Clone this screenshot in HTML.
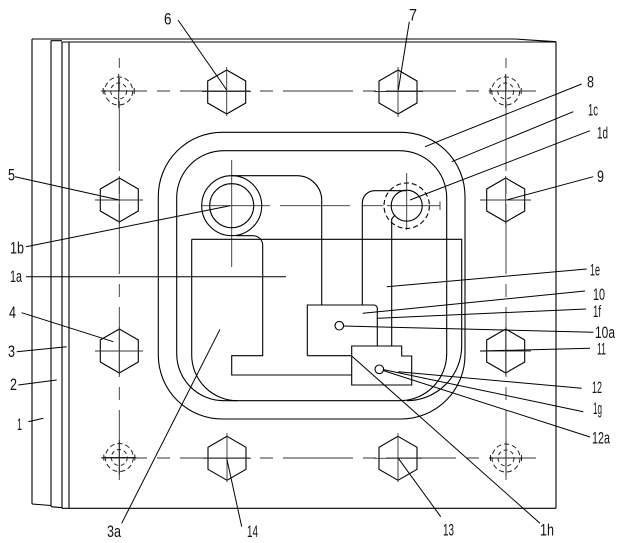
<!DOCTYPE html>
<html><head><meta charset="utf-8">
<style>
html,body{margin:0;padding:0;background:#fff;}
svg{display:block;}
text{font-family:"Liberation Sans",sans-serif;font-size:17px;fill:#111;}
</style></head>
<body>
<svg width="623" height="543" viewBox="0 0 623 543" xmlns="http://www.w3.org/2000/svg">
<rect width="623" height="543" fill="#fff"/>

<!-- Plates outline -->
<g fill="none" stroke="#000" stroke-width="1.1">
  <line x1="32" y1="39" x2="32" y2="504"/>
  <line x1="51" y1="40.5" x2="51" y2="506.5"/>
  <line x1="62" y1="41.5" x2="62" y2="508"/>
  <line x1="69" y1="42" x2="69" y2="508.3"/>
  <path d="M32 39 H515 L540 40.7 L556 41.7"/>
  <path d="M51 40.7 H62"/>
  <path d="M62 42 H556"/>
  <line x1="556" y1="41.7" x2="556" y2="508.3"/>
  <path d="M32 504 L51 505.5 M51 506.7 L62 507.7 M62 508.3 H556"/>
</g>

<!-- Center lines -->
<g fill="none" stroke="#333" stroke-width="0.9">
  <line x1="101" y1="91" x2="536" y2="91" stroke-dasharray="70 10 13 10" stroke-dashoffset="24"/>
  <line x1="101" y1="458" x2="536" y2="458" stroke-dasharray="70 10 13 10" stroke-dashoffset="24"/>
  <line x1="119.3" y1="58" x2="119.3" y2="486" stroke-dasharray="70 10 13 10" stroke-dashoffset="60"/>
  <line x1="506" y1="58" x2="506" y2="486" stroke-dasharray="70 10 13 10" stroke-dashoffset="60"/>
  <!-- 1b-1d center line -->
  <path d="M201.7 205.7 H270 M280 205.7 H350 M361.7 205.7 H383.3 M386.7 205.7 H440"/>
  <line x1="440" y1="201.5" x2="440" y2="210"/>
  <line x1="231.7" y1="160" x2="231.7" y2="267"/>
  <line x1="406.7" y1="173" x2="406.7" y2="230"/>
</g>

<!-- Corner dashed circles -->
<g fill="none" stroke="#222" stroke-width="1">
  <g transform="translate(118.7,91)">
    <circle r="14" stroke-dasharray="5 3"/><circle r="8" stroke-dasharray="4 3"/>
    <line x1="-17" y1="0" x2="17" y2="0"/><line x1="-15.5" y1="-3" x2="-15.5" y2="3"/><line x1="15.5" y1="-3" x2="15.5" y2="3"/>
    <line x1="0" y1="-17" x2="0" y2="17"/>
  </g>
  <g transform="translate(505.7,91)">
    <circle r="14" stroke-dasharray="5 3"/><circle r="8" stroke-dasharray="4 3"/>
    <line x1="-17" y1="0" x2="17" y2="0"/><line x1="-15.5" y1="-3" x2="-15.5" y2="3"/><line x1="15.5" y1="-3" x2="15.5" y2="3"/>
    <line x1="0" y1="-17" x2="0" y2="17"/>
  </g>
  <g transform="translate(119.3,457.5)">
    <circle r="14" stroke-dasharray="5 3"/><circle r="8" stroke-dasharray="4 3"/>
    <line x1="-17" y1="0" x2="17" y2="0"/><line x1="-15.5" y1="-3" x2="-15.5" y2="3"/><line x1="15.5" y1="-3" x2="15.5" y2="3"/>
    <line x1="0" y1="-17" x2="0" y2="17"/>
  </g>
  <g transform="translate(506,458)">
    <circle r="14" stroke-dasharray="5 3"/><circle r="8" stroke-dasharray="4 3"/>
    <line x1="-17" y1="0" x2="17" y2="0"/><line x1="-15.5" y1="-3" x2="-15.5" y2="3"/><line x1="15.5" y1="-3" x2="15.5" y2="3"/>
    <line x1="0" y1="-17" x2="0" y2="17"/>
  </g>
</g>

<!-- Hexagons -->
<g fill="none" stroke="#000" stroke-width="1.1">
  <polygon points="226.7,70 245.7,81 245.7,103 226.7,114 207.7,103 207.7,81"/>
  <polygon points="398,70 417,81 417,103 398,114 379,103 379,81"/>
  <polygon points="119.3,178 138.3,189 138.3,211 119.3,222 100.3,211 100.3,189"/>
  <polygon points="505.7,178 524.7,189 524.7,211 505.7,222 486.7,211 486.7,189"/>
  <polygon points="119.3,329 138.3,340 138.3,362 119.3,373 100.3,362 100.3,340"/>
  <polygon points="505.7,329 524.7,340 524.7,362 505.7,373 486.7,362 486.7,340"/>
  <polygon points="227,436.3 246,447.3 246,469.3 227,480.3 208,469.3 208,447.3"/>
  <polygon points="398,436.3 417,447.3 417,469.3 398,480.3 379,469.3 379,447.3"/>
</g>
<!-- Hex crosses -->
<g stroke="#333" stroke-width="0.9">
  <path d="M202 91.5 H251 M226.7 67 V116"/>
  <path d="M374 91.5 H423 M398 67 V117"/>
  <path d="M95 200 H143 M119.3 176 V224"/>
  <path d="M480 200 H531 M505.7 176 V224"/>
  <path d="M95 351 H143 M119.3 327 V375"/>
  <path d="M480 351 H531 M505.7 327 V375"/>
  <path d="M203 458.3 H251 M227 433 V482"/>
  <path d="M374 458.3 H422 M398 433 V482"/>
</g>

<!-- Seal outlines -->
<g fill="none" stroke="#000" stroke-width="1.1">
  <rect x="158.3" y="132.3" width="306.7" height="286.7" rx="64" ry="64"/>
  <rect x="176.7" y="150.7" width="270" height="250" rx="47" ry="47"/>
  <!-- 1a region -->
  <path d="M191.7 239.3 H461.7 V346 A55 55 0 0 1 406.7 400.7"/>
  <path d="M191.7 239.3 V355 A45.7 45.7 0 0 0 237.4 400.7"/>
  <!-- 1b circles -->
  <circle cx="231.7" cy="205.7" r="30"/>
  <circle cx="231.7" cy="205.7" r="22"/>
  <!-- 1b arm -->
  <path d="M232 175.7 H297 A24.7 24.7 0 0 1 321.7 200.4 V305"/>
  <!-- 1b channel / L -->
  <path d="M236 235.7 H253 A9.7 9.7 0 0 1 262.7 245.4 V355.7 H231.7 V375 H351.7"/>
  <!-- 1d circles -->
  <circle cx="406.7" cy="205.7" r="15.5"/>
  <circle cx="406.7" cy="205.7" r="22.7" stroke-dasharray="5 3"/>
  <!-- 1d arm -->
  <path d="M362.3 305 V203 A12.3 12.3 0 0 1 374.6 190.7 H406.7"/>
  <path d="M395 215 L391.7 219 V346"/>
  <!-- 10 block -->
  <path d="M307.3 355.7 V305 H374 A3.3 3.3 0 0 1 377.3 308.3 V346"/>
  <path d="M307.3 355.7 H351.7"/>
  <!-- 12 block -->
  <path d="M351.7 346 H401.7 V356 H411.7 V385 H351.7 Z"/>
  <circle cx="339.3" cy="325.7" r="4.3"/>
  <circle cx="379.3" cy="369.3" r="4.3"/>
</g>

<!-- Leader lines -->
<g stroke="#000" stroke-width="1" fill="none">
  <line x1="178" y1="20" x2="226.7" y2="90"/>
  <line x1="409.3" y1="21.7" x2="398.3" y2="90"/>
  <line x1="581.7" y1="84" x2="425" y2="146.7"/>
  <line x1="573.3" y1="111.7" x2="451.7" y2="161.7"/>
  <line x1="590" y1="130.7" x2="410" y2="200"/>
  <line x1="593.3" y1="176.7" x2="506.7" y2="200"/>
  <line x1="15" y1="176.7" x2="119.3" y2="200"/>
  <line x1="26" y1="246.7" x2="230" y2="205.7"/>
  <line x1="26" y1="276.7" x2="286" y2="276.7"/>
  <line x1="21.7" y1="312.7" x2="113.3" y2="341.7"/>
  <line x1="16.7" y1="351.7" x2="66.7" y2="346.7"/>
  <line x1="18.3" y1="385" x2="56.7" y2="380"/>
  <line x1="28.3" y1="421.7" x2="43.3" y2="418.3"/>
  <line x1="121.7" y1="523.3" x2="220" y2="329.3"/>
  <line x1="241.7" y1="526.7" x2="226.7" y2="458.3"/>
  <line x1="440.7" y1="516.7" x2="398.3" y2="458.3"/>
  <line x1="540" y1="523.3" x2="351.7" y2="356"/>
  <line x1="590" y1="437" x2="383" y2="370.5"/>
  <line x1="583.3" y1="411.7" x2="383" y2="369.5"/>
  <line x1="581.7" y1="388.3" x2="398.3" y2="371.7"/>
  <line x1="590" y1="348.3" x2="480" y2="351"/>
  <line x1="593.3" y1="332.3" x2="343.5" y2="326"/>
  <line x1="586" y1="309" x2="376.7" y2="318.3"/>
  <line x1="585" y1="291" x2="362.7" y2="313.3"/>
  <line x1="586.7" y1="269" x2="386.7" y2="286.7"/>
</g>

<!-- Labels -->
<g>
  <text x="164" y="24.5" textLength="7.5" lengthAdjust="spacingAndGlyphs">6</text>
  <text x="409" y="20.5" textLength="8" lengthAdjust="spacingAndGlyphs">7</text>
  <text x="587" y="87.5" textLength="7" lengthAdjust="spacingAndGlyphs">8</text>
  <text x="588" y="115.5" textLength="10" lengthAdjust="spacingAndGlyphs">1c</text>
  <text x="597" y="138.5" textLength="11" lengthAdjust="spacingAndGlyphs">1d</text>
  <text x="597" y="182" textLength="7" lengthAdjust="spacingAndGlyphs">9</text>
  <text x="8" y="180.5" textLength="7" lengthAdjust="spacingAndGlyphs">5</text>
  <text x="10" y="253.5" textLength="14" lengthAdjust="spacingAndGlyphs">1b</text>
  <text x="10" y="282" textLength="12" lengthAdjust="spacingAndGlyphs">1a</text>
  <text x="9" y="318" textLength="7" lengthAdjust="spacingAndGlyphs">4</text>
  <text x="8" y="357" textLength="7" lengthAdjust="spacingAndGlyphs">3</text>
  <text x="10" y="390" textLength="7" lengthAdjust="spacingAndGlyphs">2</text>
  <text x="17" y="430" textLength="5" lengthAdjust="spacingAndGlyphs">1</text>
  <text x="107" y="537" textLength="14" lengthAdjust="spacingAndGlyphs">3a</text>
  <text x="247" y="537" textLength="11" lengthAdjust="spacingAndGlyphs">14</text>
  <text x="443" y="535.5" textLength="11" lengthAdjust="spacingAndGlyphs">13</text>
  <text x="540" y="535.5" textLength="14" lengthAdjust="spacingAndGlyphs">1h</text>
  <text x="590" y="275.5" textLength="10" lengthAdjust="spacingAndGlyphs">1e</text>
  <text x="593" y="300" textLength="12" lengthAdjust="spacingAndGlyphs">10</text>
  <text x="593" y="317" textLength="8" lengthAdjust="spacingAndGlyphs">1f</text>
  <text x="595" y="338" textLength="20" lengthAdjust="spacingAndGlyphs">10a</text>
  <text x="597" y="354.5" textLength="9" lengthAdjust="spacingAndGlyphs">11</text>
  <text x="592" y="393" textLength="10" lengthAdjust="spacingAndGlyphs">12</text>
  <text x="593" y="414" textLength="9" lengthAdjust="spacingAndGlyphs">1g</text>
  <text x="592" y="443.5" textLength="18" lengthAdjust="spacingAndGlyphs">12a</text>
</g>
</svg>
</body></html>
